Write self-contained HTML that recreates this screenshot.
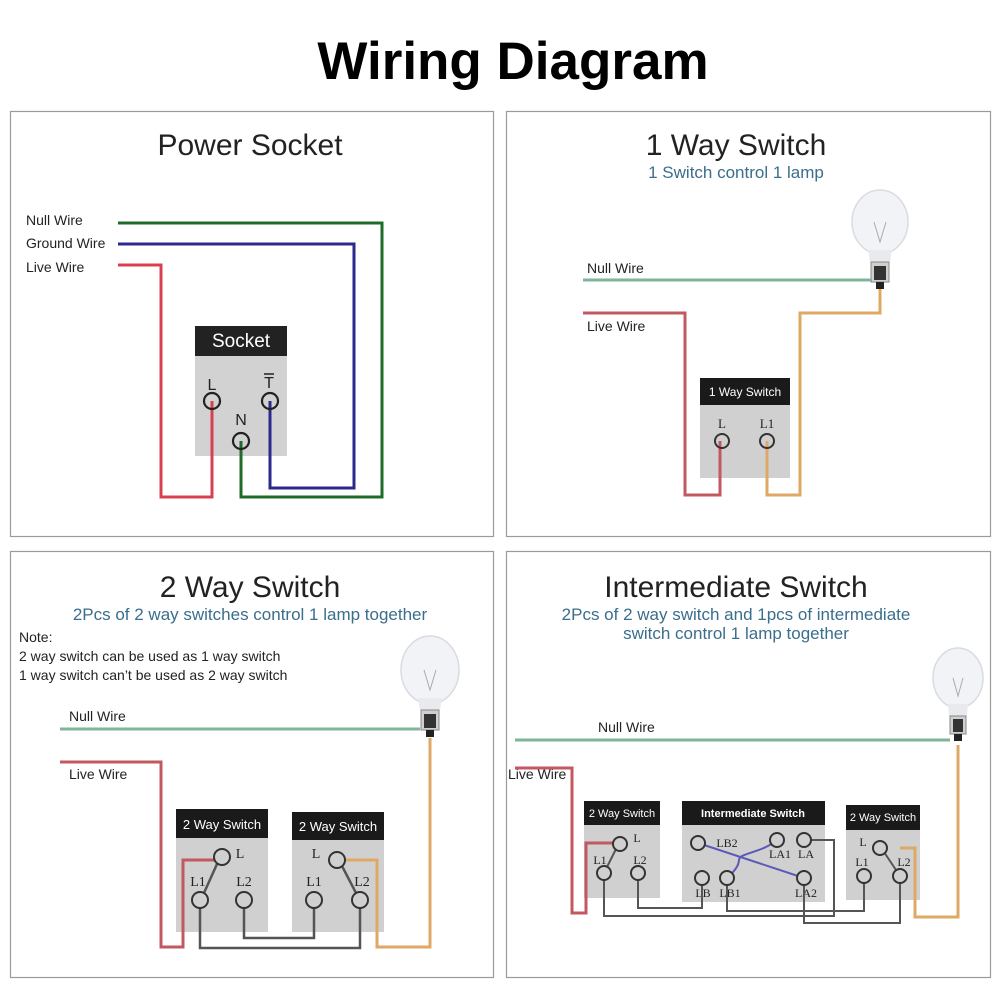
<!DOCTYPE html>
<html><head><meta charset="utf-8"><style>
html,body{margin:0;padding:0;background:#fff;}
svg{display:block;font-family:"Liberation Sans",sans-serif;}
</style></head><body>
<svg width="1001" height="1001" viewBox="0 0 1001 1001" xmlns="http://www.w3.org/2000/svg">
<rect width="1001" height="1001" fill="#fff"/>
<text x="513" y="79" text-anchor="middle" font-size="53" font-weight="bold" fill="#000">Wiring Diagram</text>
<g fill="none" stroke="#9a9a9a" stroke-width="1.2">
<rect x="10.5" y="111.5" width="483" height="425"/>
<rect x="506.5" y="111.5" width="484" height="425"/>
<rect x="10.5" y="551.5" width="483" height="426"/>
<rect x="506.5" y="551.5" width="484" height="426"/>
</g>

<text x="250" y="155" text-anchor="middle" font-size="30" fill="#222">Power Socket</text>
<g font-size="14" fill="#222">
<text x="26" y="225">Null Wire</text>
<text x="26" y="248">Ground Wire</text>
<text x="26" y="272">Live Wire</text>
</g>
<rect x="195" y="326" width="92" height="30" fill="#222"/>
<rect x="195" y="356" width="92" height="100" fill="#d2d2d2"/>
<text x="241" y="347" text-anchor="middle" font-size="19" fill="#fff">Socket</text>
<g font-size="16" fill="#222" text-anchor="middle">
<text x="212" y="390">L</text><text x="269" y="388">T</text><text x="241" y="425">N</text>
</g>
<line x1="264" y1="374" x2="274" y2="374" stroke="#222" stroke-width="1.5"/>
<g fill="none" stroke-width="3">
<polyline points="118,223 382,223 382,497 241,497 241,441" stroke="#1e6b2a"/>
<polyline points="118,244 354,244 354,488 270,488 270,401" stroke="#2b2a8c"/>
<polyline points="118,265 161,265 161,497 212,497 212,401" stroke="#d8404f"/>
</g>
<g fill="none" stroke="#222" stroke-width="2.2">
<circle cx="212" cy="401" r="8"/><circle cx="270" cy="401" r="8"/><circle cx="241" cy="441" r="8"/>
</g>

<g transform="translate(880,232)">
<ellipse cx="0" cy="-10" rx="28" ry="32" fill="#f1f3f6" stroke="#d8dce2" stroke-width="1.5"/>
<path d="M-12 18 L12 18 L10 30 L-10 30 Z" fill="#e8eaee"/>
<path d="M-6 -10 L0 10 L6 -10" fill="none" stroke="#aaa" stroke-width="1"/>
<rect x="-9" y="30" width="18" height="20" fill="#cfcfcf" stroke="#888"/>
<rect x="-6" y="34" width="12" height="14" fill="#333"/>
<rect x="-4" y="50" width="8" height="7" fill="#222"/>
</g>
<g transform="translate(430,680)">
<ellipse cx="0" cy="-10" rx="29" ry="34" fill="#f1f3f6" stroke="#d8dce2" stroke-width="1.5"/>
<path d="M-12 18 L12 18 L10 30 L-10 30 Z" fill="#e8eaee"/>
<path d="M-6 -10 L0 10 L6 -10" fill="none" stroke="#aaa" stroke-width="1"/>
<rect x="-9" y="30" width="18" height="20" fill="#cfcfcf" stroke="#888"/>
<rect x="-6" y="34" width="12" height="14" fill="#333"/>
<rect x="-4" y="50" width="8" height="7" fill="#222"/>
</g>
<g transform="translate(958,688)">
<ellipse cx="0" cy="-10" rx="25" ry="30" fill="#f1f3f6" stroke="#d8dce2" stroke-width="1.5"/>
<path d="M-10 16 L10 16 L9 28 L-9 28 Z" fill="#e8eaee"/>
<path d="M-5 -10 L0 8 L5 -10" fill="none" stroke="#aaa" stroke-width="1"/>
<rect x="-8" y="28" width="16" height="18" fill="#cfcfcf" stroke="#888"/>
<rect x="-5" y="31" width="10" height="13" fill="#333"/>
<rect x="-4" y="46" width="8" height="7" fill="#222"/>
</g>

<text x="736" y="155" text-anchor="middle" font-size="30" fill="#222">1 Way Switch</text>
<text x="736" y="178" text-anchor="middle" font-size="17" fill="#3a6e8c">1 Switch control 1 lamp</text>
<g font-size="14" fill="#222"><text x="587" y="273">Null Wire</text><text x="587" y="331">Live Wire</text></g>
<line x1="583" y1="280" x2="872" y2="280" stroke="#7fb59a" stroke-width="3"/>
<rect x="700" y="378" width="90" height="27" fill="#1a1a1a"/>
<rect x="700" y="405" width="90" height="73" fill="#d0d0d0"/>
<text x="745" y="396" text-anchor="middle" font-size="12" fill="#fff">1 Way Switch</text>
<g font-size="13" fill="#222" text-anchor="middle" font-family="Liberation Serif,serif"><text x="722" y="428">L</text><text x="767" y="428">L1</text></g>
<g fill="none" stroke-width="3">
<polyline points="583,313 685,313 685,495 720,495 720,441" stroke="#c25860"/>
<polyline points="767,441 767,495 800,495 800,313 880,313 880,289" stroke="#e0a866"/>
</g>
<g fill="none" stroke="#333" stroke-width="2"><circle cx="722" cy="441" r="7"/><circle cx="767" cy="441" r="7"/></g>

<text x="250" y="597" text-anchor="middle" font-size="30" fill="#222">2 Way Switch</text>
<text x="250" y="620" text-anchor="middle" font-size="17" fill="#3a6e8c">2Pcs of 2 way switches control 1 lamp together</text>
<g font-size="14" fill="#222"><text x="19" y="642">Note:</text><text x="19" y="661">2 way switch can be used as 1 way switch</text><text x="19" y="680">1 way switch can’t be used as 2 way switch</text>
<text x="69" y="721">Null Wire</text><text x="69" y="779">Live Wire</text></g>
<line x1="60" y1="729" x2="420" y2="729" stroke="#7fb59a" stroke-width="3"/>
<rect x="176" y="809" width="92" height="29" fill="#1a1a1a"/>
<rect x="176" y="838" width="92" height="94" fill="#d0d0d0"/>
<rect x="292" y="812" width="92" height="28" fill="#1a1a1a"/>
<rect x="292" y="840" width="92" height="92" fill="#d0d0d0"/>
<g font-size="13" fill="#fff" text-anchor="middle"><text x="222" y="829">2 Way Switch</text><text x="338" y="831">2 Way Switch</text></g>
<g font-size="14" fill="#222" text-anchor="middle" font-family="Liberation Serif,serif">
<text x="240" y="858">L</text><text x="198" y="886">L1</text><text x="244" y="886">L2</text>
<text x="316" y="858">L</text><text x="314" y="886">L1</text><text x="362" y="886">L2</text></g>
<g fill="none" stroke-width="3">
<polyline points="60,762 161,762 161,947 183,947 183,860 222,860" stroke="#c25860"/>
<polyline points="337,860 377,860 377,947 430,947 430,738" stroke="#e0a866"/>
</g>
<g fill="none" stroke="#555" stroke-width="2.5">
<polyline points="244,900 244,938 314,938 314,900"/>
<polyline points="200,900 200,948 360,948 360,900"/>
<line x1="217" y1="864" x2="204" y2="893"/><line x1="342" y1="866" x2="356" y2="893"/>
</g>
<g fill="#d0d0d0" stroke="#333" stroke-width="2">
<circle cx="222" cy="857" r="8"/><circle cx="200" cy="900" r="8"/><circle cx="244" cy="900" r="8"/>
<circle cx="337" cy="860" r="8"/><circle cx="314" cy="900" r="8"/><circle cx="360" cy="900" r="8"/></g>

<text x="736" y="597" text-anchor="middle" font-size="30" fill="#222">Intermediate Switch</text>
<text x="736" y="620" text-anchor="middle" font-size="17" fill="#3a6e8c">2Pcs of 2 way switch and 1pcs of intermediate</text>
<text x="736" y="639" text-anchor="middle" font-size="17" fill="#3a6e8c">switch control 1 lamp together</text>
<g font-size="14" fill="#222"><text x="598" y="732">Null Wire</text><text x="508" y="779">Live Wire</text></g>
<line x1="515" y1="740" x2="950" y2="740" stroke="#7fb59a" stroke-width="3"/>
<rect x="584" y="801" width="76" height="24" fill="#1a1a1a"/>
<rect x="584" y="825" width="76" height="73" fill="#d0d0d0"/>
<rect x="682" y="801" width="143" height="24" fill="#1a1a1a"/>
<rect x="682" y="825" width="143" height="77" fill="#d0d0d0"/>
<rect x="846" y="805" width="74" height="25" fill="#1a1a1a"/>
<rect x="846" y="830" width="74" height="70" fill="#d0d0d0"/>
<g font-size="11" fill="#fff" text-anchor="middle"><text x="622" y="817">2 Way Switch</text><text x="753" y="817" font-weight="bold">Intermediate Switch</text><text x="883" y="821">2 Way Switch</text></g>
<g font-size="12" fill="#222" text-anchor="middle" font-family="Liberation Serif,serif">
<text x="637" y="842">L</text><text x="600" y="864">L1</text><text x="640" y="864">L2</text>
<text x="727" y="847">LB2</text><text x="780" y="858">LA1</text><text x="806" y="858">LA</text>
<text x="703" y="897">LB</text><text x="730" y="897">LB1</text><text x="806" y="897">LA2</text>
<text x="863" y="846">L</text><text x="862" y="866">L1</text><text x="904" y="866">L2</text></g>
<g fill="none" stroke-width="3">
<polyline points="515,768 572,768 572,913 586,913 586,843 620,843" stroke="#c25860"/>
<polyline points="900,848 915,848 915,917 958,917 958,745" stroke="#e0a866"/>
</g>
<g fill="none" stroke="#555" stroke-width="2">
<polyline points="638,873 638,908 702,908 702,878"/>
<polyline points="604,873 604,916 834,916 834,840 804,840"/>
<polyline points="727,878 727,911 864,911 864,876"/>
<polyline points="804,878 804,923 900,923 900,876"/>
<line x1="616" y1="849" x2="607" y2="867"/><line x1="884" y1="852" x2="896" y2="870"/>
</g>
<g fill="none" stroke="#5a5ab8" stroke-width="2">
<line x1="698" y1="843" x2="804" y2="878"/>
<path d="M727,878 C745,862 735,860 742,856 C750,852 765,850 777,840"/>
</g>
<g fill="#d0d0d0" stroke="#333" stroke-width="2">
<circle cx="620" cy="844" r="7"/><circle cx="604" cy="873" r="7"/><circle cx="638" cy="873" r="7"/>
<circle cx="698" cy="843" r="7"/><circle cx="777" cy="840" r="7"/><circle cx="804" cy="840" r="7"/>
<circle cx="702" cy="878" r="7"/><circle cx="727" cy="878" r="7"/><circle cx="804" cy="878" r="7"/>
<circle cx="880" cy="848" r="7"/><circle cx="864" cy="876" r="7"/><circle cx="900" cy="876" r="7"/></g>
</svg>
</body></html>
